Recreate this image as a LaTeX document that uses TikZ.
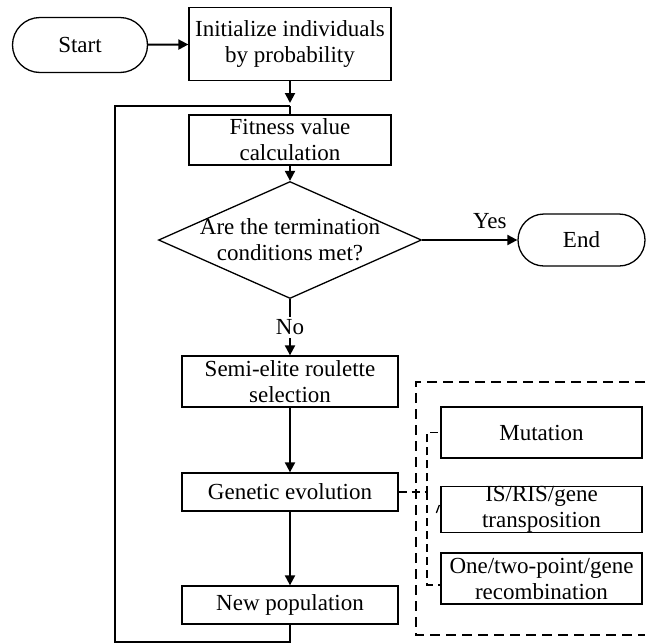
\documentclass[tikz,border=0pt]{standalone}
\usepackage{fontspec}
\setmainfont{Liberation Serif}
\usetikzlibrary{arrows.meta,shapes.geometric,shapes.misc,calc}
\begin{document}
\begin{tikzpicture}[x=0.5pt,y=-0.5pt,
    font=\fontsize{11.5}{13}\selectfont,
    box/.style={draw,line width=0.65pt,align=center,inner sep=0pt},
    term/.style={draw,rounded rectangle,line width=0.65pt,inner sep=0pt,
        minimum width=67.5pt,minimum height=27.5pt},
    decision/.style={draw,diamond,line width=0.65pt,inner sep=0pt,
        minimum width=131.5pt,minimum height=58.5pt},
    flow/.style={line width=1pt,-{Triangle[length=5pt,width=5pt]}},
    link/.style={line width=0.65pt,dash pattern=on 4pt off 2.5pt},
    group/.style={line width=0.65pt,dash pattern=on 5pt off 3pt}]
    \useasboundingbox (0,0) rectangle (646,643);
    % Start and initialization
    \node[term] (start) at (80,45) {Start};
    \node[box,minimum width=101pt,minimum height=36.5pt] (init) at (290,44)
        {Initialize individuals\\by probability};
    \draw[flow] (start) -- (init);
    % Fitness
    \coordinate (join) at (290,106);
    \node[box,minimum width=101pt,minimum height=25pt] (fit) at (290,140)
        {Fitness value\\calculation};
    \draw[flow,shorten >=1.5pt] (init) -- (join);
    \draw[line width=1pt] (join) -- (fit);
    % Termination test
    \node[decision] (dec) at (290,240) {};
    \node[align=center] (decText) at (290,240) {Are the termination\\conditions met?};
    \draw[flow] (fit) -- (dec);
    \node[term,minimum width=63.5pt,minimum height=26pt] (end) at (581.5,240) {End};
    \draw[flow] (dec.east) -- node[above=2pt,pos=0.71] {Yes} (end);
    % Selection and evolution
    \node[box,minimum width=108pt,minimum height=25.5pt] (semi) at (290,381.5)
        {Semi-elite roulette\\selection};
    \draw[flow] (dec.south) -- node[fill=white,inner sep=1.5pt] {No} (semi);
    \node[box,minimum width=108pt,minimum height=19pt] (gen) at (290,492)
        {Genetic evolution};
    \draw[flow] (semi) -- (gen);
    \node[box,minimum width=108pt,minimum height=19pt] (newp) at (290,605)
        {New population};
    \draw[flow] (gen) -- (newp);
    % Loop back
    \coordinate (loopCorner) at (115,642);
    \draw[line width=0.65pt] (newp.south) |- (loopCorner) |- (join);
    % Genetic operators
    \draw[group] (645,382) -- (416,382) -- (416,635) -- (645,635);
    \node[box,minimum width=100.5pt,minimum height=25.5pt] (mut) at (541.5,432.5)
        {Mutation};
    \node[box,minimum width=100.5pt,minimum height=22.5pt] (trans) at (541.5,509.5)
        {IS/RIS/gene\\transposition};
    \node[box,minimum width=100.5pt,minimum height=25.5pt] (recomb) at (541.5,578.5)
        {One/two-point/gene\\recombination};
    \coordinate (fork) at (427,492);
    \coordinate (forkLow) at (427,585);
    \draw[link] (gen.east) -- (fork) |- (mut.west);
    \draw[link] (fork) -- (forkLow) -- (recomb.west |- forkLow);
    \draw[line width=0.65pt] ($(trans.west)+(-4,3.5)$) -- ($(trans.west)+(-1,-4.5)$);
\end{tikzpicture}
\end{document}
